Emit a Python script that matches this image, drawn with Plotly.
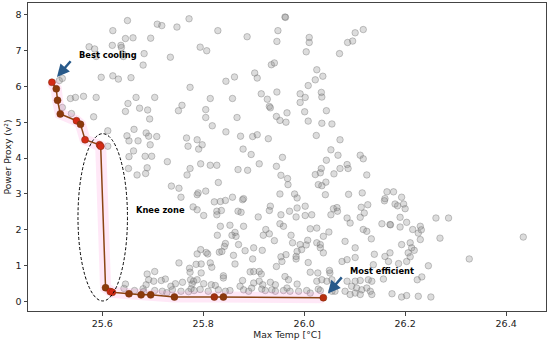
import plotly.graph_objects as go

# ---------------- data ----------------
# Pareto front (Max Temp, Power Proxy)
front_temp = [25.5004, 25.509, 25.5115, 25.517, 25.549, 25.557, 25.566, 25.5947, 25.597,
              25.6066, 25.616, 25.62, 25.653, 25.677, 25.696, 25.743, 25.822, 25.84, 26.038]
front_power = [6.11, 5.93, 5.61, 5.23, 5.04, 4.94, 4.51, 4.37, 4.33,
               0.39, 0.28, 0.26, 0.22, 0.19, 0.19, 0.13, 0.13, 0.13, 0.11]

# All evaluated designs (gray cloud), grouped by region
cloud_upper = [
    (25.650, 7.83), (25.621, 7.55), (25.709, 7.73), (25.718, 7.69), (25.748, 7.65), (25.772, 7.88),
    (25.646, 7.33), (25.661, 7.35), (25.620, 7.14), (25.637, 7.14), (25.638, 7.08), (25.574, 7.10),
    (25.585, 7.04), (25.696, 7.34), (25.588, 6.83), (25.641, 6.90), (25.642, 6.83), (25.683, 6.91),
    (25.735, 6.81), (25.681, 6.59), (25.794, 7.09), (25.521, 6.22), (25.515, 6.16), (25.598, 6.25),
    (25.621, 6.29), (25.632, 6.20), (25.657, 6.24), (25.774, 5.97), (25.537, 5.66), (25.547, 5.69),
    (25.563, 5.72), (25.588, 5.69), (25.667, 5.69), (25.704, 5.69), (25.651, 5.52), (25.521, 5.41),
    (25.674, 5.39), (25.690, 5.34), (25.646, 5.30), (25.758, 5.47), (25.751, 5.32), (25.539, 5.24),
    (25.583, 5.15), (25.694, 5.09), (25.663, 4.80), (25.611, 4.76), (25.649, 4.62), (25.687, 4.70),
    (25.692, 4.61), (25.708, 4.60), (25.767, 4.56), (25.788, 4.51), (25.653, 4.48), (25.671, 4.48),
    (25.611, 4.33), (25.695, 4.37), (25.770, 4.33), (25.662, 4.20), (25.685, 4.05),
    (25.698, 4.05), (25.653, 4.04), (25.729, 3.90), (25.652, 3.71), (25.689, 3.73), (25.774, 3.71),
    (25.829, 7.55), (25.887, 7.38), (25.962, 7.93), (25.963, 7.92), (25.948, 7.55), (25.946, 7.25),
    (26.010, 7.36), (26.010, 7.22), (26.004, 6.96), (26.101, 7.49), (26.117, 7.58), (26.096, 7.26),
    (26.086, 7.22), (26.070, 6.91), (25.807, 6.99), (25.935, 6.60), (25.941, 6.65), (26.025, 6.46),
    (26.022, 6.18), (26.037, 6.28), (26.008, 6.02), (25.902, 6.37), (25.907, 6.23), (25.845, 6.14),
    (25.862, 6.26), (25.946, 5.84), (25.915, 5.79), (25.927, 5.64), (25.992, 5.79), (26.002, 5.69),
    (25.992, 5.55), (26.034, 5.83), (26.035, 5.70), (25.814, 5.66), (25.858, 5.66), (25.805, 5.35),
    (25.805, 5.13), (25.931, 5.44), (25.933, 5.40), (25.966, 5.26), (26.001, 5.29), (26.044, 5.32),
    (25.945, 5.16), (25.952, 5.05), (25.964, 5.00), (25.867, 5.13), (25.818, 4.90), (26.008, 5.03),
    (26.035, 4.97), (26.055, 4.95), (25.845, 4.73), (25.874, 4.61), (25.898, 4.60), (25.907, 4.65),
    (26.024, 4.63), (26.071, 4.51), (25.791, 4.25), (25.798, 4.37), (25.879, 4.25), (26.053, 4.23),
    (25.957, 4.02), (26.067, 4.08), (26.044, 3.94), (26.111, 4.08), (26.117, 3.98), (25.795, 3.84),
    (25.814, 3.80), (25.827, 3.80), (25.911, 3.84), (25.945, 3.77), (25.869, 3.68), (26.034, 3.71),
    (26.071, 3.71), (26.085, 3.82), (26.087, 3.71), (25.895, 4.10), (25.929, 4.54), (25.888, 3.66),
]
cloud_middle = [
    (25.669, 3.53), (25.686, 3.57), (25.768, 3.53), (25.737, 3.22), (25.752, 3.16), (25.756, 2.91),
    (25.954, 3.52), (25.967, 3.43), (25.968, 3.26), (26.022, 3.54), (26.032, 3.59), (25.830, 3.32),
    (26.028, 3.26), (25.805, 3.08), (25.790, 3.03), (25.788, 2.98), (25.952, 3.00), (25.981, 3.00),
    (25.986, 2.89), (26.002, 2.66), (25.858, 2.91), (25.878, 2.84), (25.880, 2.87), (25.844, 2.82),
    (25.834, 2.79), (25.822, 2.78), (25.933, 2.66), (25.931, 2.54), (25.986, 2.61), (25.971, 2.52),
    (25.780, 2.64), (25.788, 2.56), (25.827, 2.52), (25.836, 2.54), (25.827, 2.42), (25.801, 2.40),
    (25.869, 2.52), (25.875, 2.49), (25.909, 2.36), (25.954, 2.42), (25.984, 2.36), (26.002, 2.40),
    (26.043, 3.33), (26.035, 3.23), (26.088, 2.99), (26.115, 3.03), (26.042, 2.98), (26.164, 3.06),
    (26.177, 3.06), (26.160, 2.87), (26.159, 2.81), (26.193, 2.91), (26.126, 2.70), (26.113, 2.63),
    (26.119, 2.47), (26.058, 2.59), (26.065, 2.62), (26.066, 2.52), (26.053, 2.42), (26.180, 2.72),
    (26.185, 2.67), (26.197, 2.72), (26.200, 2.59), (26.085, 2.33), (26.111, 2.35), (26.190, 2.35),
    (26.261, 2.33), (26.286, 2.33), (26.124, 3.53), (26.059, 3.56), (26.015, 2.42),
]
cloud_lower = [
    (25.834, 2.10), (25.828, 1.85), (25.832, 1.38), (25.795, 1.45), (25.788, 1.33), (25.806, 1.37),
    (25.809, 1.33), (25.752, 1.08), (25.786, 1.04), (25.796, 1.05), (25.814, 1.08), (25.817, 0.96),
    (25.773, 0.93), (25.774, 0.82), (25.796, 0.80), (25.689, 0.77), (25.704, 0.84), (25.692, 0.61),
    (25.702, 0.57), (25.717, 0.59), (25.725, 0.63), (25.775, 0.61), (25.781, 0.57), (25.788, 0.61),
    (25.759, 0.54), (25.745, 0.50), (25.736, 0.43), (25.687, 0.47), (25.681, 0.36), (25.646, 0.49),
    (25.801, 0.50), (25.816, 0.47), (25.776, 0.36), (25.782, 0.31), (25.794, 0.34), (25.739, 0.33),
    (25.756, 0.29), (25.704, 0.31), (25.719, 0.29), (25.664, 0.31), (25.824, 0.45), (25.830, 0.33),
    (25.810, 0.29), (25.643, 0.37), (25.682, 0.28), (25.728, 0.25), (25.771, 0.28), (25.778, 0.49),
    (25.853, 2.13), (25.880, 2.10), (25.863, 1.93), (25.857, 1.85), (25.865, 1.82), (25.924, 2.01),
    (25.919, 1.85), (25.931, 1.89), (25.952, 2.17), (25.959, 2.10), (26.012, 2.03), (26.025, 2.05),
    (26.049, 1.94), (26.038, 1.82), (25.974, 1.85), (25.941, 1.70), (25.844, 1.62), (25.842, 1.54),
    (25.870, 1.59), (25.977, 1.64), (25.992, 1.59), (26.004, 1.58), (26.007, 1.71), (26.025, 1.64),
    (26.032, 1.59), (26.032, 1.50), (26.038, 1.36), (25.995, 1.45), (25.986, 1.40), (25.837, 1.40),
    (25.860, 1.29), (25.883, 1.42), (25.900, 1.50), (25.917, 1.43), (25.964, 1.31), (25.954, 1.25),
    (25.956, 1.12), (25.984, 1.26), (25.984, 1.19), (25.898, 1.19), (25.863, 1.05), (25.945, 0.98),
    (26.008, 1.09), (26.012, 0.82), (26.027, 0.80), (26.051, 0.80), (26.050, 0.87), (25.893, 0.83),
    (25.900, 0.84), (25.911, 0.84), (25.915, 0.77), (25.840, 0.72), (25.840, 0.66), (25.962, 0.70),
    (25.969, 0.61), (25.878, 0.59), (25.873, 0.43), (25.900, 0.52), (25.911, 0.57), (25.918, 0.47),
    (25.933, 0.54), (25.943, 0.47), (25.986, 0.49), (26.025, 0.57), (26.035, 0.61), (26.045, 0.57),
    (26.055, 0.61), (25.853, 0.31), (25.844, 0.29), (25.880, 0.33), (25.890, 0.29), (25.896, 0.38),
    (25.916, 0.35), (25.923, 0.31), (25.936, 0.33), (25.943, 0.29), (25.966, 0.38), (25.972, 0.29),
    (25.959, 0.31), (25.989, 0.29), (26.005, 0.31), (26.012, 0.24), (26.028, 0.35), (26.032, 0.31),
    (26.055, 0.29), (26.061, 0.29),
    (26.091, 2.19), (26.154, 2.17), (26.170, 2.15), (26.171, 2.14), (26.190, 2.08), (26.203, 2.21),
    (26.215, 2.01), (26.230, 2.10), (26.226, 1.91), (26.230, 1.73), (26.117, 2.01), (26.124, 1.96),
    (26.269, 1.77), (26.133, 1.75), (26.081, 1.68), (26.193, 1.59), (26.210, 1.64), (26.213, 1.50),
    (26.218, 1.43), (26.206, 1.36), (26.210, 1.25), (26.203, 1.12), (26.101, 1.50), (26.139, 1.32),
    (26.160, 1.26), (26.170, 1.36), (26.101, 1.23), (26.075, 1.12), (26.085, 1.17), (26.167, 1.12),
    (26.187, 1.06), (26.137, 1.03), (26.246, 1.00), (26.233, 0.69), (26.224, 0.61), (26.085, 0.57),
    (26.101, 0.57), (26.111, 0.59), (26.127, 0.61), (26.134, 0.57), (26.157, 0.63), (26.094, 0.43),
    (26.104, 0.38), (26.114, 0.33), (26.124, 0.38), (26.081, 0.29), (26.091, 0.20), (26.101, 0.24),
    (26.111, 0.20), (26.131, 0.29), (26.134, 0.20), (26.174, 0.22), (26.193, 0.13), (26.203, 0.17),
    (26.226, 0.15), (26.251, 0.13), (26.434, 1.80), (26.327, 1.19), (26.232, 2.00),
]

x_ticks = [25.6, 25.8, 26.0, 26.2, 26.4]
x_tick_labels = ["25.6", "25.8", "26.0", "26.2", "26.4"]
y_ticks = [0, 1, 2, 3, 4, 5, 6, 7, 8]

# knee-zone ellipse bounds (data units)
knee_x = [25.552, 25.650]
knee_y = [0.02, 4.68]

cloud = cloud_upper + cloud_middle + cloud_lower
cloud_temp = [p[0] for p in cloud]
cloud_power = [p[1] for p in cloud]

# ---------------- figure ----------------
FONT = "DejaVu Sans"
fig = go.Figure()

fig.add_trace(go.Scatter(
    x=cloud_temp, y=cloud_power, mode="markers",
    marker=dict(size=6.5, color="rgba(128,128,128,0.28)",
                line=dict(color="rgba(110,110,110,0.38)", width=1)),
    hoverinfo="skip", showlegend=False))

# soft pink highlight behind front
fig.add_trace(go.Scatter(
    x=front_temp, y=front_power, mode="lines",
    line=dict(color="rgba(255,140,215,0.2)", width=11),
    hoverinfo="skip", showlegend=False))

front_colors = ["#d42a16", "#8b3a0c", "#8b3a0c", "#8b3a0c", "#d42a16", "#8b3a0c", "#d42a16",
                "#d42a16", "#d42a16", "#8b3a0c", "#d42a16", "#d42a16", "#8b3a0c", "#8b3a0c",
                "#8b3a0c", "#8b3a0c", "#a2300f", "#8b3a0c", "#b8300f"]
fig.add_trace(go.Scatter(
    x=front_temp, y=front_power, mode="lines+markers",
    line=dict(color="#8b4513", width=1.5),
    marker=dict(size=7, color=front_colors, line=dict(color="#7a2a0a", width=0.5)),
    hoverinfo="skip", showlegend=False))

fig.add_shape(type="circle", xref="x", yref="y",
              x0=knee_x[0], x1=knee_x[1], y0=knee_y[0], y1=knee_y[1],
              line=dict(color="black", width=1, dash="3px,2px"))

arrow_color = "#285a8a"
fig.add_annotation(x=front_temp[0] + 0.01, y=front_power[0] + 0.15, ax=25.540, ay=6.74,
                   xref="x", yref="y", axref="x", ayref="y", text="", showarrow=True,
                   arrowhead=2, arrowsize=1, arrowwidth=2.5, arrowcolor=arrow_color)
fig.add_annotation(x=25.551, y=6.86, xref="x", yref="y", text="<b>Best cooling</b>",
                   showarrow=False, xanchor="left", yanchor="middle",
                   font=dict(family=FONT, size=8.3, color="black"))
fig.add_annotation(x=front_temp[-1] + 0.009, y=front_power[-1] + 0.12, ax=26.077, ay=0.72,
                   xref="x", yref="y", axref="x", ayref="y", text="", showarrow=True,
                   arrowhead=2, arrowsize=1, arrowwidth=2.5, arrowcolor=arrow_color)
fig.add_annotation(x=26.087, y=0.86, xref="x", yref="y", text="<b>Most efficient</b>",
                   showarrow=False, xanchor="left", yanchor="middle",
                   font=dict(family=FONT, size=8.3, color="black"))
fig.add_annotation(x=25.662, y=2.56, xref="x", yref="y", text="<b>Knee zone</b>",
                   showarrow=False, xanchor="left", yanchor="middle",
                   font=dict(family=FONT, size=8.3, color="black"))

axis_common = dict(showgrid=False, zeroline=False, showline=True, mirror=True,
                   linecolor="#444444", linewidth=1, ticks="outside", ticklen=3.5,
                   tickcolor="#444444", tickwidth=1, automargin=False,
                   tickfont=dict(family=FONT, size=9.5, color="#222222"))

fig.update_layout(
    width=550, height=344,
    margin=dict(l=28, r=4, t=3, b=33),
    paper_bgcolor="white", plot_bgcolor="white",
    font=dict(family=FONT),
    xaxis=dict(range=[25.453, 26.479], tickvals=x_ticks, ticktext=x_tick_labels,
               title=dict(text="Max Temp [°C]", font=dict(family=FONT, size=9.2, color="#222222"),
                          standoff=2),
               **axis_common),
    yaxis=dict(range=[-0.26, 8.32], tickvals=y_ticks,
               title=dict(text="Power Proxy (v²)", font=dict(family=FONT, size=9.2, color="#222222"),
                          standoff=2),
               **axis_common),
)

fig.write_html("out.html", config={"displayModeBar": False},
               post_script="document.body.style.margin='0';document.body.style.padding='0';")
